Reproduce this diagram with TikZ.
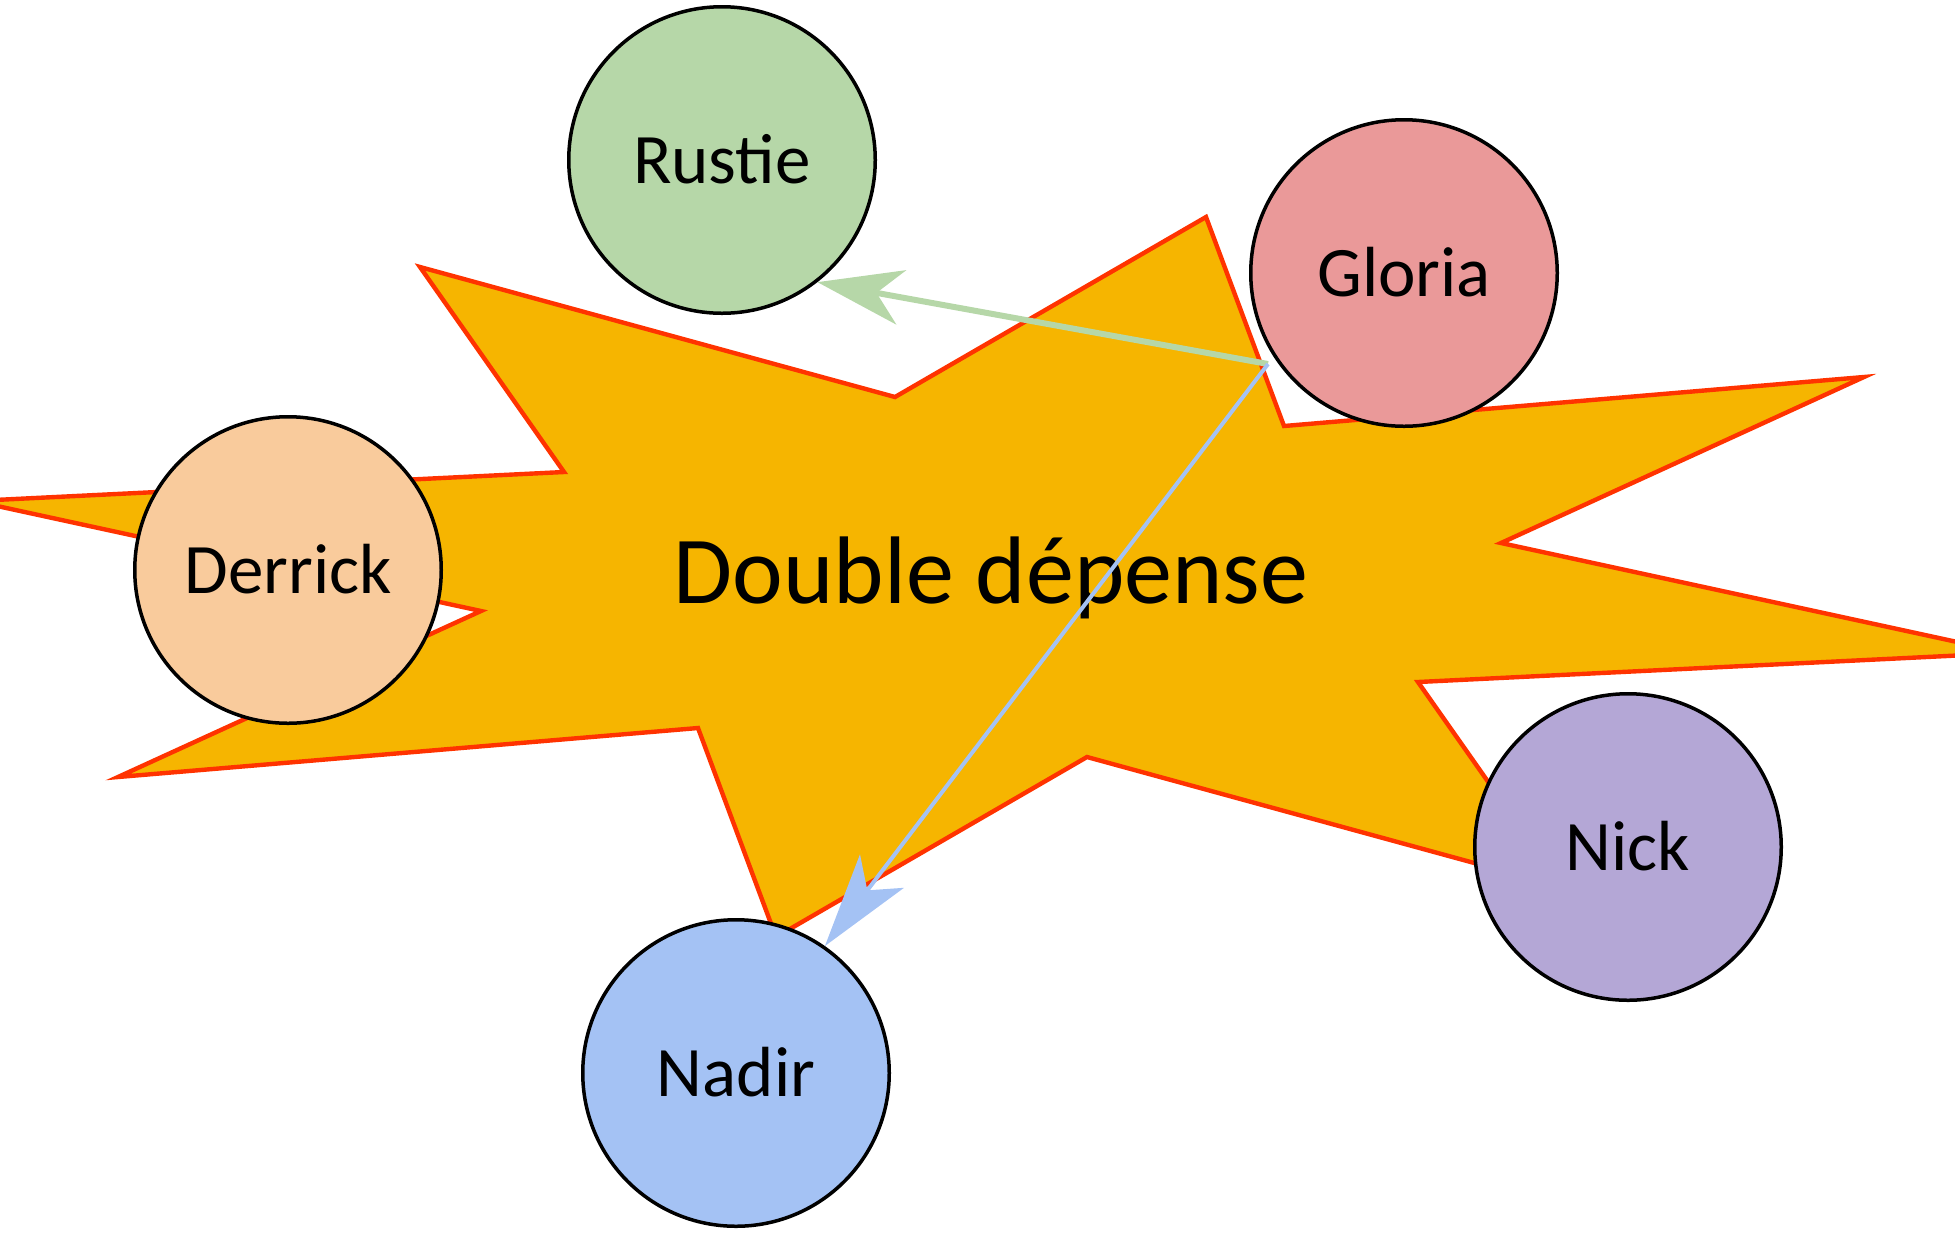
\documentclass[tikz,border=0pt]{standalone}
\usepackage{fontspec}
\setmainfont{Carlito}
\usepackage{tikz}
\usetikzlibrary{arrows.meta}
\definecolor{burstfill}{RGB}{246,181,0}
\definecolor{burstline}{RGB}{255,51,0}
\definecolor{rustiegreen}{RGB}{182,215,168}
\definecolor{gloriared}{RGB}{234,153,153}
\definecolor{derrickorange}{RGB}{249,203,156}
\definecolor{nickpurple}{RGB}{180,167,214}
\definecolor{nadirblue}{RGB}{164,194,244}

\begin{document}
\begin{tikzpicture}[
  x=0.5pt, y=-0.5pt,
  person/.style={circle, draw=black, line width=1.75pt, minimum size=153.25pt, inner sep=0pt, font=\fontsize{35.5}{38}\selectfont, text height=23pt, text depth=0pt},
  burst/.style={draw=burstline, fill=burstfill, line width=2.2pt},
  title/.style={font=\fontsize{48}{52}\selectfont, anchor=base, inner sep=0pt},
  greenpay/.style={-{Stealth[length=42.5pt, width=27.5pt, inset=12.5pt]}, draw=rustiegreen, line width=3pt},
  bluepay/.style={-{Stealth[length=47pt, width=27.5pt, inset=12pt]}, draw=nadirblue, line width=2pt}
]
\useasboundingbox (0,0) rectangle (1955,1244);
\clip (0,0) rectangle (1955,1244);

% the burst behind everything
\draw[burst] (420,267) -- (895,397) -- (1206,217) -- (1284,426) -- (1864,377) -- (1501,543)
  -- (2008,653) -- (1418,682) -- (1562,887) -- (1087,757) -- (776,937) -- (698,728)
  -- (118,777) -- (481,611) -- (-26,501) -- (564,472) -- cycle;
\node[title] (double) at (991,603) {Double dépense};

\node[person, fill=rustiegreen] (rustie) at (722,160) {Rustie};
\node[person, fill=gloriared] (gloria) at (1404,273) {Gloria};
\node[person, fill=derrickorange] (derrick) at (288,570) {Derrick};
\node[person, fill=nickpurple] (nick) at (1628,847) {Nick};
\node[person, fill=nadirblue] (nadir) at (736,1073) {Nadir};

% Gloria pays twice
\coordinate (spend) at (1268,364);
\draw[greenpay] (spend) -- (rustie.-52);
\draw[bluepay] (spend) -- (nadir.55);

\end{tikzpicture}
\end{document}
